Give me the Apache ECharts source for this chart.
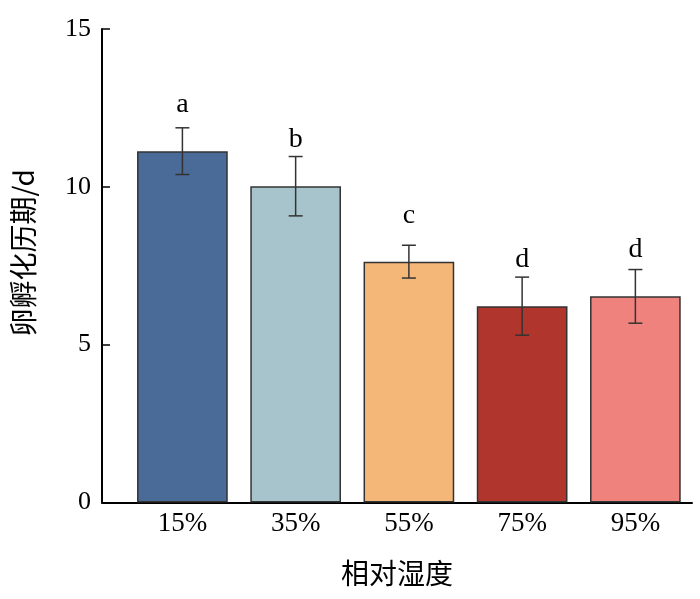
<!DOCTYPE html>
<html>
<head>
<meta charset="utf-8">
<script src="https://cdn.jsdelivr.net/npm/echarts@6/dist/echarts.min.js"></script>
<style>html,body{margin:0;padding:0;background:#fff;}#c{width:700px;height:599px;}</style>
</head>
<body>
<div id="c"></div>
<script>
// ---- data ----
const categories = ['15%', '35%', '55%', '75%', '95%'];
const means = [11.13, 10.02, 7.63, 6.22, 6.53];
const errors = [0.74, 0.94, 0.52, 0.92, 0.85];
const letters = ['a', 'b', 'c', 'd', 'd'];
const letterY = [12.59, 11.5, 9.09, 7.68, 8.0];
const colors = ['#4a6a98', '#a7c4cd', '#f5b777', '#b0352c', '#f0827e'];
const yTicks = [0, 5, 10, 15];

const serif = '"Liberation Serif", "Times New Roman", serif';
const cjk = '"Noto Sans CJK SC", "Liberation Serif", sans-serif';

const chart = echarts.init(document.getElementById('c'), null, {renderer: 'canvas'});

const barData = means.map((v, i) => ({
  value: [i, v],
  itemStyle: {color: colors[i], borderColor: '#333', borderWidth: 1.5}
}));
const errData = means.map((v, i) => [i, v - errors[i], v + errors[i]]);
const letterData = letters.map((t, i) => [i, letterY[i], t]);

chart.setOption({
  animation: false,
  backgroundColor: '#fff',
  grid: {left: 102, right: 8, top: 29, bottom: 96.5, containLabel: false},
  xAxis: {
    type: 'value',
    min: -0.71,
    max: 4.5,
    splitLine: {show: false},
    axisLine: {show: true, onZero: false, lineStyle: {color: '#000', width: 2}},
    axisTick: {show: true, inside: true, length: 8, customValues: [0, 1, 2, 3, 4], lineStyle: {color: '#000', width: 1.5}},
    axisLabel: {
      customValues: [0, 1, 2, 3, 4],
      formatter: v => categories[Math.round(v)],
      color: '#000', fontFamily: serif, fontSize: 27, margin: 8
    },
    name: '相对湿度',
    nameLocation: 'middle',
    nameGap: 57,
    nameTextStyle: {color: '#000', fontFamily: cjk, fontSize: 28}
  },
  yAxis: {
    type: 'value',
    min: yTicks[0],
    max: yTicks[yTicks.length - 1],
    interval: 5,
    splitLine: {show: false},
    axisLine: {show: true, onZero: false, lineStyle: {color: '#000', width: 2}},
    axisTick: {show: true, inside: true, length: 8, lineStyle: {color: '#000', width: 1.5}},
    axisLabel: {color: '#000', fontFamily: serif, fontSize: 26, margin: 11},
    name: '卵孵化历期/d',
    nameLocation: 'middle',
    nameRotate: 90,
    nameGap: 65,
    nameTextStyle: {color: '#000', fontFamily: cjk, fontSize: 28, padding: [0, 0, 0, 26]}
  },
  series: [
    {
      type: 'bar',
      data: barData,
      barWidth: 90.7,
      z: 2
    },
    {
      type: 'custom',
      z: 3,
      data: errData,
      renderItem: function (params, api) {
        const x = api.value(0);
        const lo = api.coord([x, api.value(1)]);
        const hi = api.coord([x, api.value(2)]);
        const hw = 7;
        const style = {stroke: '#333', lineWidth: 1.5, fill: null};
        return {
          type: 'group',
          children: [
            {type: 'line', shape: {x1: lo[0], y1: lo[1], x2: hi[0], y2: hi[1]}, style: style},
            {type: 'line', shape: {x1: hi[0] - hw, y1: hi[1], x2: hi[0] + hw, y2: hi[1]}, style: style},
            {type: 'line', shape: {x1: lo[0] - hw, y1: lo[1], x2: lo[0] + hw, y2: lo[1]}, style: style}
          ]
        };
      }
    },
    {
      type: 'custom',
      z: 4,
      data: letterData,
      renderItem: function (params, api) {
        const p = api.coord([api.value(0), api.value(1)]);
        return {
          type: 'text',
          x: p[0], y: p[1],
          style: {
            text: letters[params.dataIndex],
            fill: '#000',
            font: '28px ' + serif,
            align: 'center',
            verticalAlign: 'middle'
          }
        };
      }
    }
  ]
});
</script>
</body>
</html>
